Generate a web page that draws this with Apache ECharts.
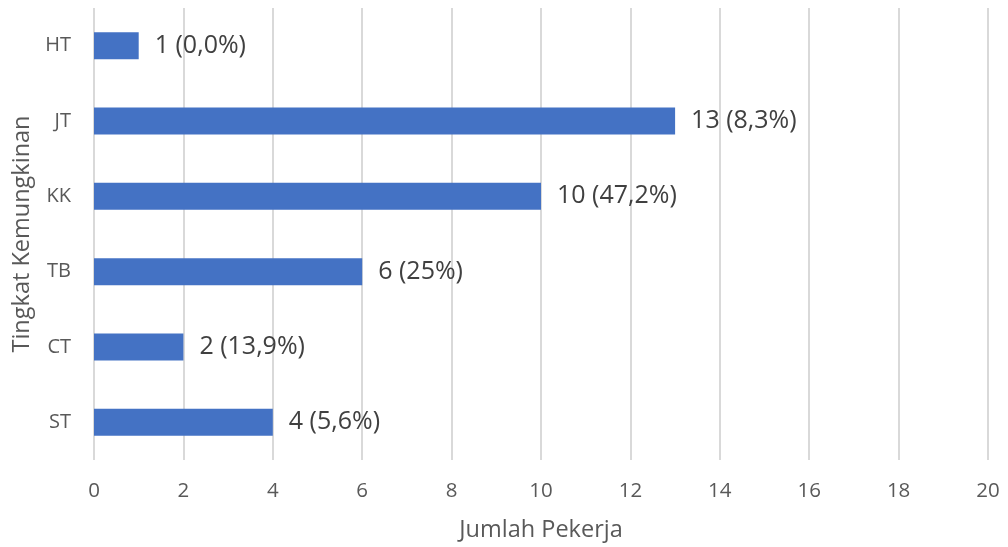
<!DOCTYPE html>
<html><head><meta charset="utf-8">
<script src="https://cdn.jsdelivr.net/npm/echarts@6/dist/echarts.min.js"></script>
<style>html,body{margin:0;padding:0;background:#fff}#c{width:1008px;height:547px}</style>
</head><body><div id="c"></div>
<script>
const categories = ['ST', 'CT', 'TB', 'KK', 'JT', 'HT'];
const values = [4, 2, 6, 10, 13, 1];
const percentLabels = ['5,6%', '13,9%', '25%', '47,2%', '8,3%', '0,0%'];
const xAxisName = 'Jumlah Pekerja';
const yAxisName = 'Tingkat Kemungkinan';
const FONT = '"Open Sans", sans-serif';

const chart = echarts.init(document.getElementById('c'));
chart.setOption({
  animation: false,
  grid: { left: 94, right: 20, top: 8, bottom: 86, containLabel: false },
  xAxis: {
    type: 'value', min: 0, max: 20, interval: 2,
    name: xAxisName, nameLocation: 'middle', nameGap: 58,
    nameTextStyle: { fontFamily: FONT, fontSize: 23.5, color: '#595959' },
    axisLine: { show: false }, axisTick: { show: false },
    axisLabel: { fontFamily: FONT, fontSize: 20.5, color: '#595959', margin: 21 },
    splitLine: { show: true, lineStyle: { color: '#d9d9d9', width: 2 } }
  },
  yAxis: {
    type: 'category', data: categories,
    name: yAxisName, nameLocation: 'middle', nameGap: 56,
    nameTextStyle: { fontFamily: FONT, fontSize: 23.5, color: '#595959' },
    axisLine: { show: false }, axisTick: { show: false },
    axisLabel: { fontFamily: FONT, fontSize: 20, color: '#595959', margin: 23 }
  },
  series: [{
    type: 'bar', data: values, barWidth: 27,
    itemStyle: { color: '#4472C4' },
    label: {
      show: true, position: 'right', distance: 16,
      fontFamily: FONT, fontSize: 25, color: '#404040',
      formatter: p => p.value + ' (' + percentLabels[p.dataIndex] + ')'
    }
  }]
});
</script></body></html>
